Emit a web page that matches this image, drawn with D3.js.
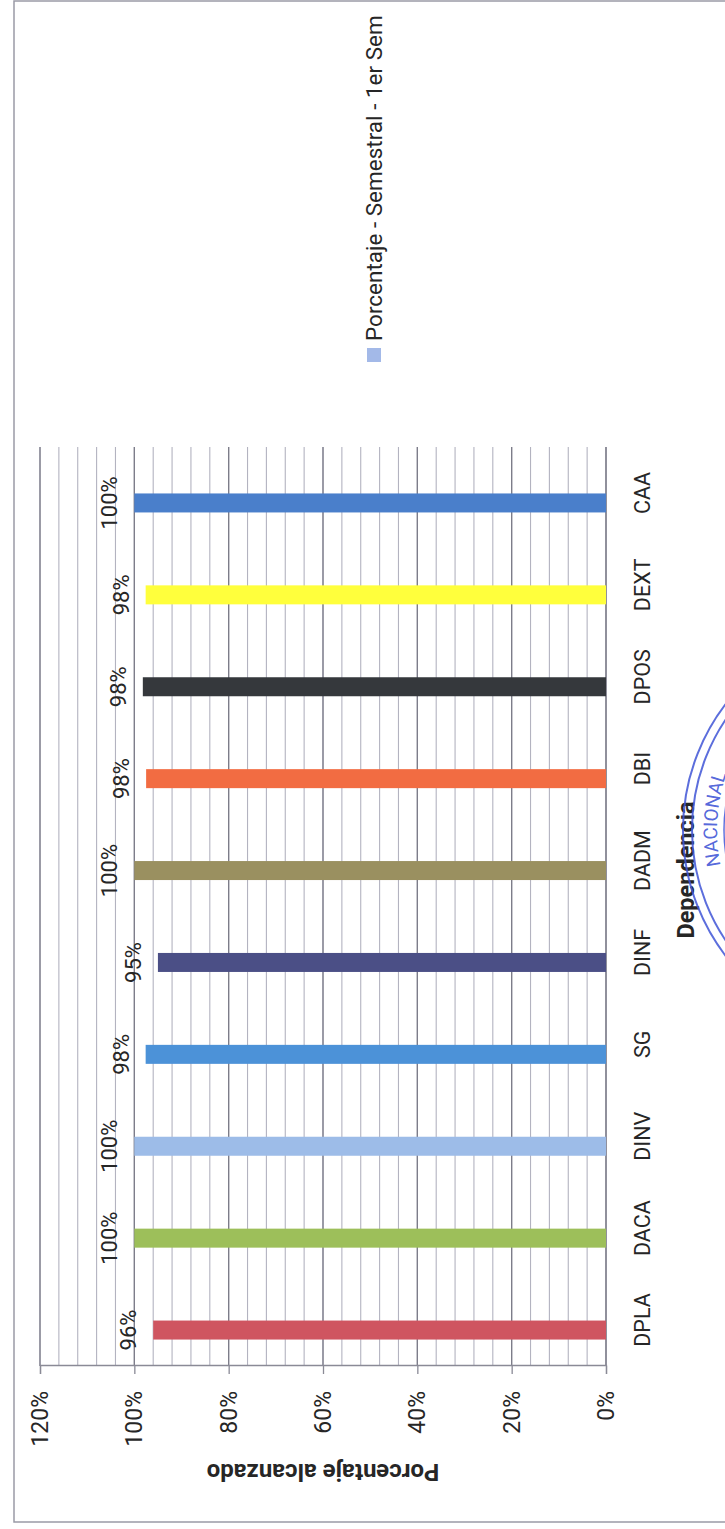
<!DOCTYPE html>
<html>
<head>
<meta charset="utf-8">
<script src="https://cdn.jsdelivr.net/npm/d3@7"></script>
<style>
  body { margin: 0; background: #fff; }
  svg { display: block; font-family: Roboto, "Liberation Sans", sans-serif; }
</style>
</head>
<body>
<div id="chart"></div>
<script>
// data
const categories = ["DPLA", "DACA", "DINV", "SG", "DINF", "DADM", "DBI", "DPOS", "DEXT", "CAA"];
const values = [0.96, 1.0, 1.0, 0.976, 0.95, 1.0, 0.975, 0.982, 0.976, 1.0];
const barColors = ["#cf5560", "#9dbf5a", "#9dbce8", "#4c92d8", "#4b4f86",
                   "#9a9060", "#f26c42", "#35383c", "#ffff3c", "#4a7fcb"];
const valueTicks = [0, 0.2, 0.4, 0.6, 0.8, 1.0, 1.2];
const seriesName = "Porcentaje - Semestral  - 1er Sem";
const yTitle = "Porcentaje alcanzado";
const xTitle = "Dependencia";

const W = 725, H = 1529;

const svg = d3.select("#chart")
  .append("svg")
  .attr("width", W)
  .attr("height", H);

svg.append("rect").attr("width", W).attr("height", H).attr("fill", "#fff");

// the page was scanned turned a quarter turn, so draw the chart upright and rotate it
const g = svg.append("g")
  .attr("transform", `translate(0,${H}) rotate(-90)`);

// outer chart border
g.append("rect")
  .attr("x", 7).attr("y", 14)
  .attr("width", 1521).attr("height", 740)
  .attr("fill", "none")
  .attr("stroke", "#9a9aa6")
  .attr("stroke-width", 1.5);

const x = d3.scaleBand().domain(categories).range([163, 1082]);
const y = d3.scaleLinear().domain([0, 1.2]).range([606, 40]);

// minor gridlines every 4%
const minor = d3.range(0, 31).map((i) => i * 0.04);
g.append("g")
  .selectAll("line")
  .data(minor)
  .join("line")
  .attr("x1", 163).attr("x2", 1082)
  .attr("y1", (d) => y(d)).attr("y2", (d) => y(d))
  .attr("stroke", "#b3b3c0")
  .attr("stroke-width", 1.1);

// major gridlines
g.append("g")
  .selectAll("line")
  .data(valueTicks)
  .join("line")
  .attr("x1", 163).attr("x2", 1082)
  .attr("y1", (d) => y(d)).attr("y2", (d) => y(d))
  .attr("stroke", "#7c7c89")
  .attr("stroke-width", 1.3);

// value axis
const yAxis = g.append("g")
  .attr("transform", "translate(163,0)")
  .call(d3.axisLeft(y).tickValues(valueTicks).tickSize(8).tickPadding(17)
    .tickFormat(d3.format(".0%")));
yAxis.select(".domain").attr("stroke", "#8a8a96").attr("stroke-width", 1.3);
yAxis.selectAll(".tick line").attr("stroke", "#8a8a96").attr("stroke-width", 1.3);
yAxis.selectAll(".tick text")
  .attr("font-size", 23)
  .attr("fill", "#262626")
  .attr("font-family", "Roboto");

// category axis line
g.append("line")
  .attr("x1", 163).attr("x2", 1082)
  .attr("y1", y(0)).attr("y2", y(0))
  .attr("stroke", "#8a8a96")
  .attr("stroke-width", 1.3);

// bars (sit a little left of the category centre, as in the scan)
const barW = 19;
const shift = -10;
g.append("g")
  .selectAll("rect")
  .data(categories)
  .join("rect")
  .attr("x", (d) => x(d) + x.bandwidth() / 2 + shift - barW / 2)
  .attr("y", (d, i) => y(values[i]))
  .attr("width", barW)
  .attr("height", (d, i) => y(0) - y(values[i]))
  .attr("fill", (d, i) => barColors[i]);

// data labels
g.append("g")
  .selectAll("text")
  .data(categories)
  .join("text")
  .attr("x", (d) => x(d) + x.bandwidth() / 2 + shift)
  .attr("y", (d, i) => y(values[i]) - 17)
  .attr("text-anchor", "middle")
  .attr("font-size", 22)
  .attr("fill", "#262626")
  .text((d, i) => d3.format(".0%")(values[i]));

// category labels
g.append("g")
  .selectAll("text")
  .data(categories)
  .join("text")
  .attr("x", (d) => x(d) + x.bandwidth() / 2)
  .attr("y", 650)
  .attr("text-anchor", "middle")
  .attr("font-size", 21.5)
  .attr("fill", "#262626")
  .text((d) => d);

// axis titles
g.append("text")
  .attr("transform", `translate(57,${(y(0) + y(1.2)) / 2}) rotate(-90)`)
  .attr("text-anchor", "middle")
  .attr("dy", "0.35em")
  .attr("font-size", 24)
  .attr("font-weight", "bold")
  .attr("fill", "#262626")
  .text(yTitle);

g.append("text")
  .attr("x", 659)
  .attr("y", 694)
  .attr("text-anchor", "middle")
  .attr("font-size", 23.5)
  .attr("font-weight", "bold")
  .attr("fill", "#262626")
  .text(xTitle);

// legend
g.append("rect")
  .attr("x", 1167).attr("y", 367)
  .attr("width", 14).attr("height", 14)
  .attr("fill", "#a3b9e8");
g.append("text")
  .attr("x", 1188).attr("y", 382)
  .attr("font-size", 22.5)
  .attr("fill", "#262626")
  .text(seriesName);

// part of the rubber stamp at the page edge
const stamp = svg.append("g")
  .attr("fill", "none")
  .attr("stroke", "#3f55d6")
  .attr("stroke-opacity", 0.85);
const cx = 890, cy = 830;
[207, 198, 166].forEach((r) => {
  stamp.append("circle").attr("cx", cx).attr("cy", cy).attr("r", r)
    .attr("stroke-width", r === 166 ? 1.5 : 2);
});
const rt = 173;
svg.append("path")
  .attr("id", "stampArc")
  .attr("fill", "none")
  .attr("d", `M${cx},${cy + rt} A${rt},${rt} 0 0 1 ${cx},${cy - rt}`);
svg.append("text")
  .attr("font-size", 19)
  .attr("fill", "#3f55d6")
  .attr("fill-opacity", 0.9)
  .append("textPath")
  .attr("href", "#stampArc")
  .attr("startOffset", "52%")
  .attr("text-anchor", "middle")
  .text("NACIONAL");
</script>
</body>
</html>
